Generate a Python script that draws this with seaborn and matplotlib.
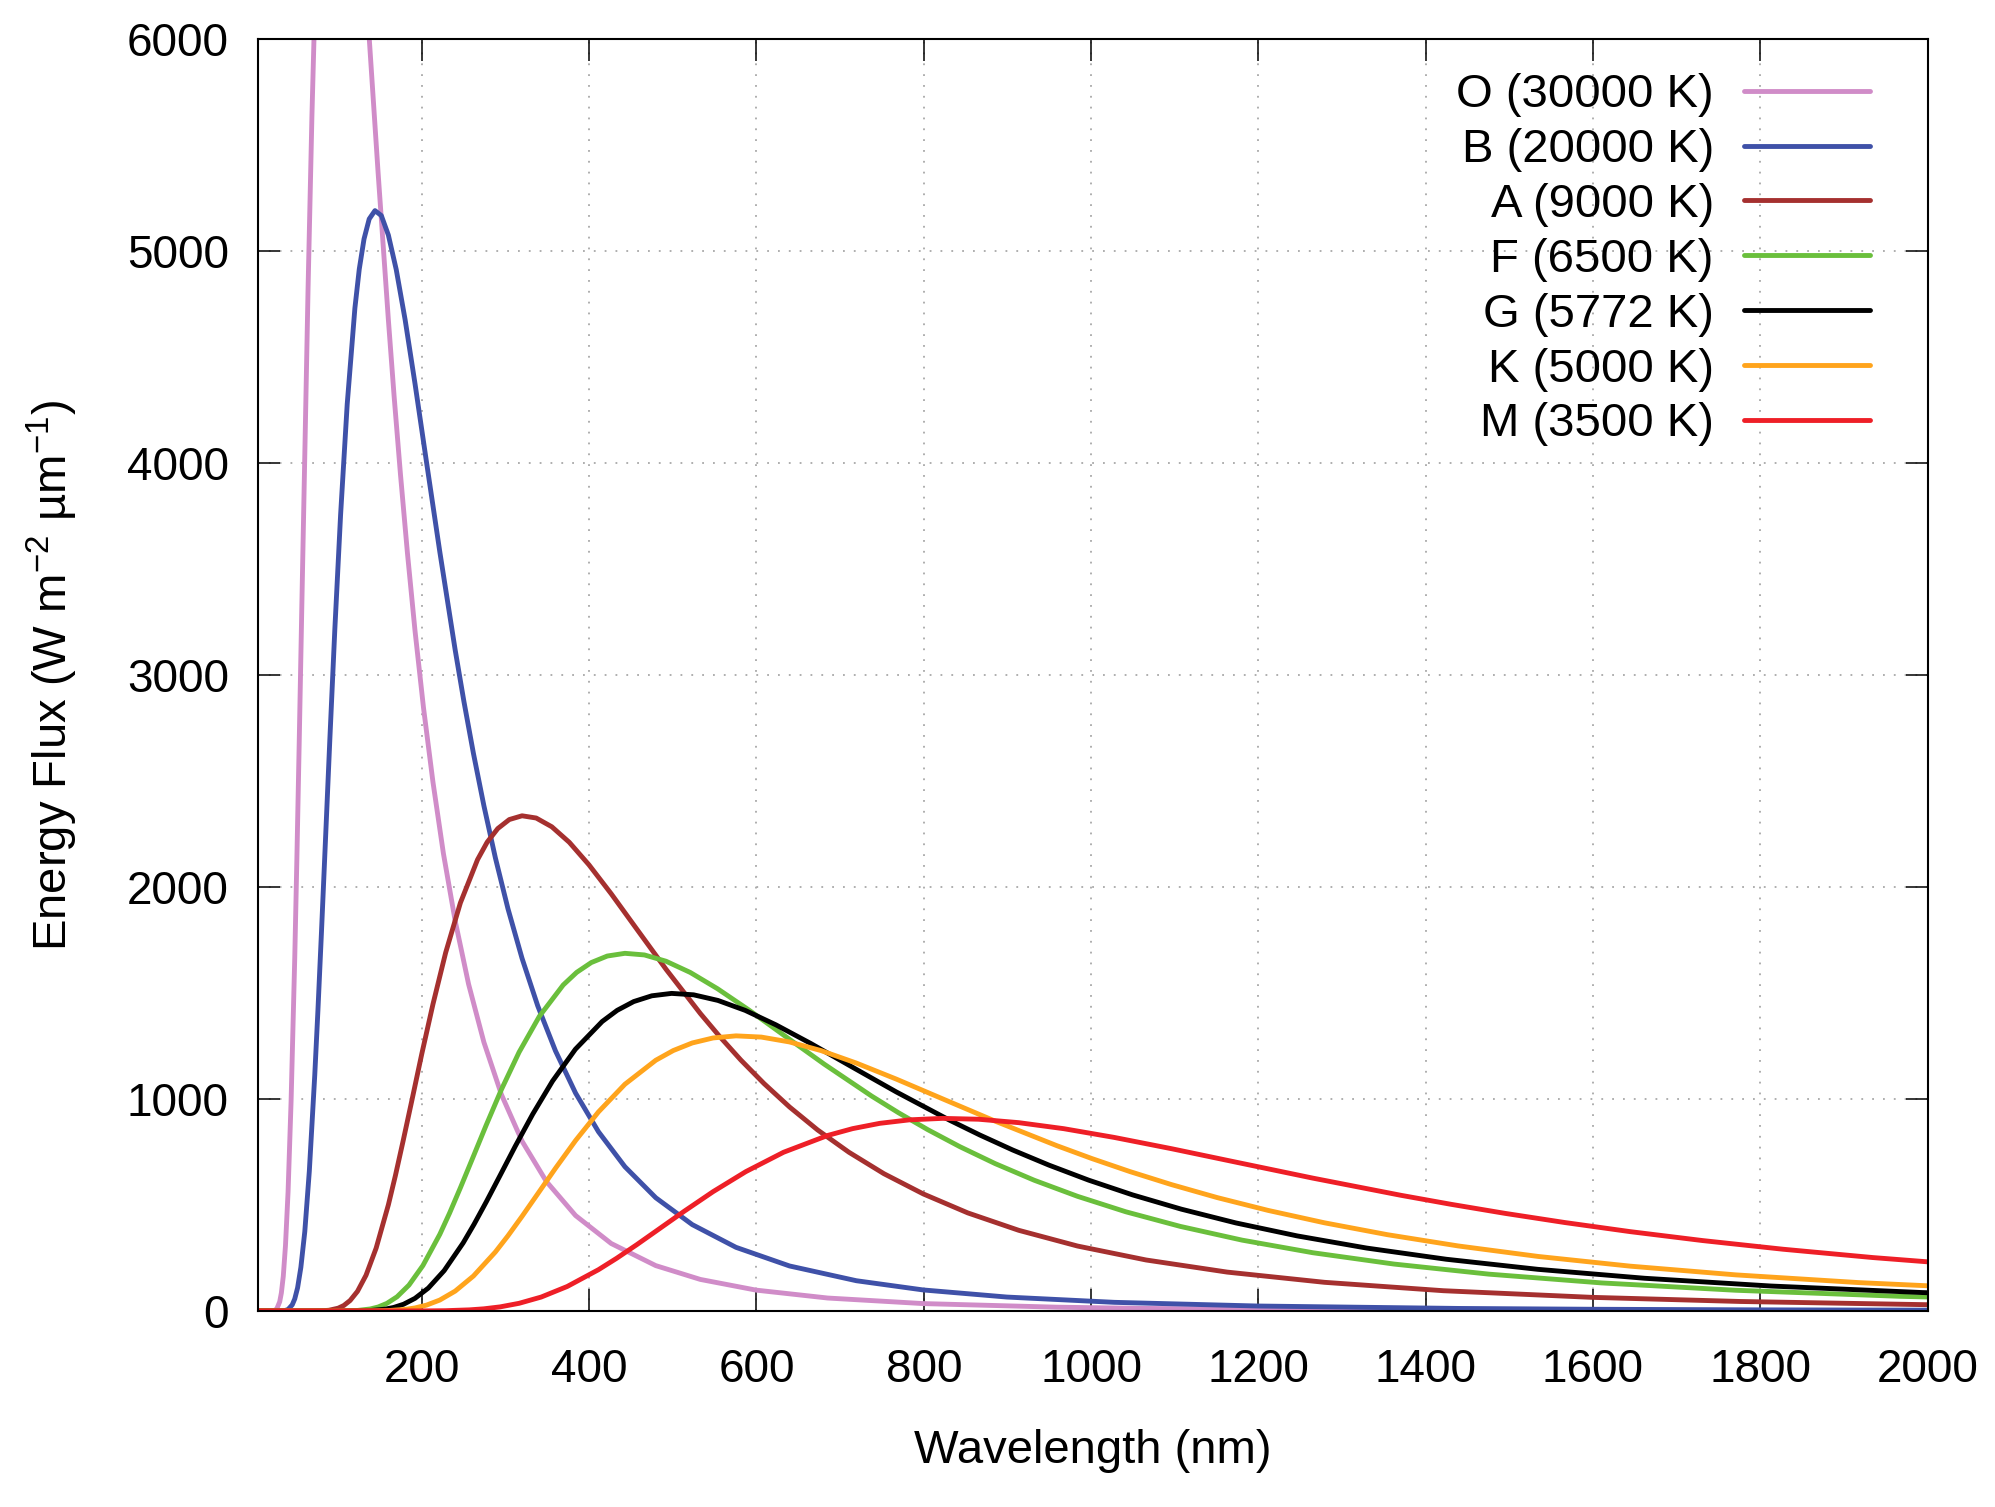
import numpy as np
import pandas as pd
import matplotlib
matplotlib.use("Agg")
import matplotlib.pyplot as plt
from matplotlib.lines import Line2D
import seaborn as sns

# spectral classes, legend labels and colours
stars = ['O (30000 K)', 'B (20000 K)', 'A (9000 K)', 'F (6500 K)',
         'G (5772 K)', 'K (5000 K)', 'M (3500 K)']
colors = ['#d08cc8', '#3f51a8', '#a5302f', '#6abf3c', '#000000', '#ffa41c', '#ee1f27']

# wavelength (nm) and flux values, one pair per star
lam_O = [0, 16.0, 19.2, 24.0, 26.6, 30.0, 32.0, 34.3, 36.9, 40.0, 43.6, 48.0, 50.5, 53.3, 56.4,
         60.0, 63.9, 68.5, 73.8, 79.9, 87.2, 95.9, 106.6, 119.9, 137.0, 147.6, 159.9, 166.8,
         174.4, 182.7, 191.8, 201.9, 213.2, 225.7, 239.8, 255.8, 274.1, 295.1, 319.7, 348.8,
         383.7, 426.3, 479.6, 532.9, 599.5, 685.1, 799.3, 959.2, 1065.8, 1199.0, 1370.3,
         1598.7, 1918.4, 2398.0]
flux_O = [0, 0, 0.1, 2.4, 10.6, 43.3, 85.3, 164.3, 308.2, 561.5, 987.9, 1667.5, 2126.9, 2676.5,
          3315.6, 4038.1, 4822.0, 5633.2, 6415.6, 7095.2, 7584.1, 7785.0, 7612.2, 7014.3, 6005.3,
          5370.9, 4675.7, 4312.9, 3944.7, 3574.9, 3206.6, 2845.4, 2495.1, 2158.0, 1839.6, 1541.4,
          1267.6, 1020.3, 800.9, 610.7, 450.0, 318.1, 213.7, 148.6, 98.2, 60.9, 34.7, 17.7,
          11.9, 7.6, 4.6, 2.6, 1.3, 0.5]

lam_B = [0, 24.0, 28.8, 36.0, 40.0, 45.0, 48.0, 51.4, 55.3, 60.0, 65.4, 71.9, 75.7, 79.9, 84.6,
         89.9, 95.9, 102.8, 110.7, 119.9, 125.1, 130.8, 137.0, 143.9, 151.5, 159.9, 169.3, 179.9,
         191.8, 205.5, 221.4, 239.8, 250.2, 261.6, 274.1, 287.8, 302.9, 319.7, 338.5, 359.7,
         383.7, 411.1, 442.7, 479.6, 523.2, 575.5, 639.5, 719.4, 799.3, 899.3, 1027.7, 1199.0,
         1438.8, 1598.7, 1798.5, 2055.4]
flux_B = [0, 0, 0, 1.6, 7.0, 28.9, 56.9, 109.5, 205.5, 374.3, 658.6, 1111.7, 1417.9, 1784.3,
          2210.4, 2692.1, 3214.7, 3755.5, 4277.1, 4730.2, 4913.4, 5056.1, 5150.6, 5190.0, 5166.6,
          5074.8, 4912.3, 4676.2, 4372.6, 4003.6, 3580.6, 3117.1, 2875.3, 2629.8, 2383.2, 2137.8,
          1896.9, 1663.4, 1438.7, 1226.4, 1027.6, 845.1, 680.2, 533.9, 407.2, 300.0, 212.1,
          142.5, 99.0, 65.5, 40.6, 23.2, 11.8, 7.9, 5.1, 3.1]

lam_A = [0, 53.3, 63.9, 79.9, 88.8, 99.9, 106.6, 114.2, 123.0, 133.2, 145.3, 159.9, 168.3, 177.6,
         188.1, 199.8, 213.2, 228.4, 246.0, 266.5, 278.0, 290.7, 304.5, 319.7, 336.6, 355.3,
         376.2, 399.7, 426.3, 456.8, 491.9, 532.9, 556.1, 581.3, 609.0, 639.5, 673.1, 710.5,
         752.3, 799.4, 852.6, 913.5, 983.8, 1065.8, 1162.7, 1279.0, 1421.1, 1598.7, 1776.3,
         1998.4, 2283.9]
flux_A = [0, 0, 0, 0.7, 3.2, 13.0, 25.6, 49.3, 92.5, 168.4, 296.4, 500.3, 638.1, 802.9, 994.7,
          1211.4, 1446.6, 1690.0, 1924.7, 2128.6, 2211.0, 2275.3, 2317.8, 2335.5, 2325.0, 2283.7,
          2210.5, 2104.3, 1967.7, 1801.6, 1611.3, 1402.7, 1293.9, 1183.4, 1072.5, 962.0, 853.6,
          748.5, 647.4, 551.9, 462.4, 380.3, 306.1, 240.3, 183.2, 135.0, 95.4, 64.1, 44.6,
          29.5, 18.3]

lam_F = [0, 73.8, 88.5, 110.7, 123.0, 138.3, 147.6, 158.1, 170.3, 184.5, 201.2, 221.4, 233.0,
         245.9, 260.4, 276.7, 295.1, 316.2, 340.5, 368.9, 385.0, 402.5, 421.6, 442.7, 466.0,
         491.9, 520.8, 553.4, 590.3, 632.4, 681.1, 737.8, 769.9, 804.9, 843.2, 885.4, 932.0,
         983.8, 1041.6, 1106.8, 1180.5, 1264.9, 1362.2, 1475.7, 1609.8, 1770.8, 1967.6, 2213.5]
flux_F = [0, 0, 0, 0.5, 2.3, 9.4, 18.5, 35.6, 66.8, 121.7, 214.1, 361.3, 460.8, 579.9, 718.4,
          874.9, 1044.8, 1220.6, 1390.1, 1537.4, 1596.9, 1643.3, 1674.0, 1686.8, 1679.2, 1649.4,
          1596.6, 1519.8, 1421.1, 1301.2, 1163.7, 1013.1, 934.5, 854.7, 774.6, 694.8, 616.5,
          540.6, 467.6, 398.6, 334.0, 274.7, 221.1, 173.5, 132.3, 97.5, 68.9, 46.3]

lam_G = [0, 83.1, 99.7, 124.6, 138.5, 155.8, 166.2, 178.1, 191.7, 207.7, 226.6, 249.3, 262.4,
         277.0, 293.3, 311.6, 332.4, 356.1, 383.5, 415.5, 433.5, 453.2, 474.8, 498.5, 524.8,
         553.9, 586.5, 623.2, 664.7, 712.2, 767.0, 830.9, 867.0, 906.4, 949.6, 997.1, 1049.6,
         1107.9, 1173.0, 1246.4, 1329.4, 1424.4, 1534.0, 1661.8, 1812.9, 1994.2, 2215.7]
flux_G = [0, 0, 0, 0.5, 2.0, 8.3, 16.4, 31.6, 59.3, 108.0, 190.1, 320.8, 409.2, 514.9, 637.9,
          776.9, 927.7, 1083.8, 1234.4, 1365.1, 1418.0, 1459.2, 1486.4, 1497.8, 1491.1, 1464.6,
          1417.7, 1349.5, 1261.9, 1155.4, 1033.3, 899.6, 829.8, 758.9, 687.8, 616.9, 547.4,
          480.0, 415.2, 353.9, 296.6, 243.9, 196.3, 154.1, 117.5, 86.6, 61.2]

lam_K = [0, 95.9, 115.1, 143.9, 159.9, 179.9, 191.8, 205.5, 221.4, 239.8, 261.6, 287.8, 302.9,
         319.7, 338.5, 359.7, 383.7, 411.1, 442.7, 479.6, 500.5, 523.2, 548.1, 575.5, 605.8,
         639.5, 677.1, 719.4, 767.4, 822.2, 885.4, 959.2, 1000.9, 1046.4, 1096.2, 1151.0,
         1211.6, 1278.9, 1354.2, 1438.8, 1534.7, 1644.3, 1770.8, 1918.4, 2092.8]
flux_K = [0, 0, 0, 0.4, 1.8, 7.2, 14.2, 27.4, 51.4, 93.6, 164.7, 277.9, 354.5, 446.1, 552.6,
          673.0, 803.7, 938.9, 1069.3, 1182.5, 1228.3, 1264.0, 1287.6, 1297.5, 1291.7, 1268.7,
          1228.1, 1169.1, 1093.1, 1000.9, 895.1, 779.3, 718.8, 657.4, 595.8, 534.4, 474.2,
          415.8, 359.7, 306.6, 256.9, 211.3, 170.1, 133.5, 101.8]

lam_M = [0, 137.0, 164.4, 205.5, 228.4, 256.9, 274.1, 293.6, 316.2, 342.6, 373.7, 411.1, 432.7,
         456.8, 483.6, 513.9, 548.1, 587.3, 632.4, 685.2, 714.9, 747.4, 783.0, 822.2, 865.5,
         913.5, 967.3, 1027.7, 1096.2, 1174.5, 1264.9, 1370.3, 1429.9, 1494.9, 1566.1, 1644.4,
         1730.9, 1827.1, 1934.5, 2055.5]
flux_M = [0, 0, 0, 0.3, 1.2, 5.1, 10.0, 19.2, 36.0, 65.5, 115.3, 194.6, 248.1, 312.3, 386.8,
          471.1, 562.6, 657.2, 748.5, 827.8, 859.9, 884.9, 901.4, 908.3, 904.2, 888.1, 859.7,
          818.4, 765.2, 700.7, 626.6, 545.5, 503.2, 460.2, 417.1, 374.1, 332.0, 291.1, 251.8,
          214.6]

x_ticks = list(range(200, 2001, 200))
y_ticks = list(range(0, 6001, 1000))

sns.set_style("ticks")
plt.rcParams['font.family'] = ['Liberation Sans', 'DejaVu Sans']
plt.rcParams['mathtext.fontset'] = 'custom'
plt.rcParams['mathtext.rm'] = 'Liberation Sans'
plt.rcParams['mathtext.it'] = 'Liberation Sans:italic'
plt.rcParams['text.color'] = 'black'
plt.rcParams['axes.labelcolor'] = 'black'

lams = [lam_O, lam_B, lam_A, lam_F, lam_G, lam_K, lam_M]
fluxes = [flux_O, flux_B, flux_A, flux_F, flux_G, flux_K, flux_M]
df = pd.concat([pd.DataFrame({'wavelength': l, 'flux': f, 'star': s})
                for l, f, s in zip(lams, fluxes, stars)], ignore_index=True)

fig = plt.figure(figsize=(19.95, 15.07), dpi=100)
ax = fig.add_axes([0.1293, 0.1301, 0.8369, 0.8441])

sns.lineplot(data=df, x='wavelength', y='flux', hue='star', hue_order=stars,
             palette=colors, estimator=None, sort=False, linewidth=3.5,
             ax=ax, legend=False)

ax.set_xlim(4, 2000)
ax.set_ylim(0, 6000)
ax.set_xticks(x_ticks)
ax.set_yticks(y_ticks)
ax.tick_params(direction='in', length=16, width=1.1, top=True, right=True,
               labelsize=33, colors='black')
ax.tick_params(axis='x', pad=27)
ax.tick_params(axis='y', pad=21)
ax.grid(True, color='#a8a8a8', linestyle=(0, (1, 5)), linewidth=1.3)
for sp in ax.spines.values():
    sp.set_linewidth(1.5)
    sp.set_color('black')

ax.set_xlabel('Wavelength (nm)', fontsize=34, labelpad=26, color='black')
ax.set_ylabel(r'Energy Flux (W m$^{-2}$ µm$^{-1}$)', fontsize=34, labelpad=34, color='black')

handles = [Line2D([], [], color=c, lw=3.5) for c in colors]
ax.legend(handles, stars, loc='upper right', bbox_to_anchor=(0.9653, 0.973),
          frameon=False, markerfirst=False, handlelength=2.65, handletextpad=0.65,
          labelspacing=0.23, borderpad=0, borderaxespad=0, fontsize=34,
          labelcolor='black')

fig.savefig('out.png', dpi=100)
